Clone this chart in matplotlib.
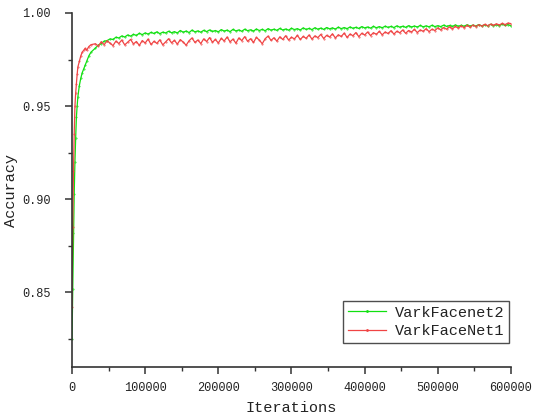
import numpy as np
import matplotlib
matplotlib.use("Agg")
import matplotlib.pyplot as plt
from matplotlib.ticker import MultipleLocator, FixedLocator

plt.rcParams['font.family'] = ['Liberation Mono', 'DejaVu Sans Mono']

# ---- data ----
iters_early = [0, 1000, 2000, 3000, 4000, 5000, 6000, 7000, 8000, 10000, 12000,
               14000, 16000, 18000, 20000, 23000, 26000]
iters_main = list(range(32000, 600001, 4000))
iterations = iters_early + iters_main

net2_early = [0.825, 0.852, 0.882, 0.903, 0.920, 0.933, 0.944, 0.950, 0.955, 0.961, 0.965,
              0.968, 0.970, 0.972, 0.974, 0.977, 0.979]
net2_main = [
    0.9812, 0.9828, 0.9836, 0.9849, 0.9852, 0.9861, 0.9858, 0.9870, 0.9866, 0.9877,
    0.9871, 0.9882, 0.9876, 0.9885, 0.9880, 0.9891, 0.9884, 0.9893, 0.9887, 0.9896,
    0.9890, 0.9899, 0.9889, 0.9897, 0.9893, 0.9902, 0.9894, 0.9900, 0.9893, 0.9906,
    0.9897, 0.9903, 0.9895, 0.9908, 0.9899, 0.9904, 0.9897, 0.9907, 0.9900, 0.9909,
    0.9901, 0.9906, 0.9899, 0.9911, 0.9903, 0.9908, 0.9900, 0.9912, 0.9904, 0.9909,
    0.9902, 0.9913, 0.9905, 0.9910, 0.9903, 0.9914, 0.9906, 0.9912, 0.9905, 0.9916,
    0.9908, 0.9913, 0.9907, 0.9917, 0.9909, 0.9914, 0.9908, 0.9918, 0.9911, 0.9916,
    0.9909, 0.9920, 0.9912, 0.9917, 0.9911, 0.9921, 0.9913, 0.9919, 0.9912, 0.9922,
    0.9915, 0.9920, 0.9914, 0.9924, 0.9916, 0.9922, 0.9916, 0.9925, 0.9918, 0.9923,
    0.9917, 0.9927, 0.9920, 0.9925, 0.9919, 0.9928, 0.9921, 0.9927, 0.9921, 0.9929,
    0.9923, 0.9928, 0.9922, 0.9931, 0.9924, 0.9929, 0.9923, 0.9932, 0.9925, 0.9930,
    0.9925, 0.9933, 0.9926, 0.9931, 0.9926, 0.9934, 0.9927, 0.9932, 0.9927, 0.9935,
    0.9928, 0.9933, 0.9928, 0.9936, 0.9929, 0.9934, 0.9929, 0.9937, 0.9930, 0.9935,
    0.9930, 0.9938, 0.9931, 0.9936, 0.9931, 0.9939, 0.9932, 0.9937, 0.9932, 0.9940,
    0.9933, 0.9938, 0.9931]
net2 = net2_early + net2_main

net1_early = [0.842, 0.885, 0.915, 0.935, 0.950, 0.957, 0.962, 0.967, 0.971, 0.974, 0.977,
              0.979, 0.980, 0.981, 0.980, 0.982, 0.983]
net1_main = [
    0.9835, 0.9822, 0.9846, 0.9830, 0.9851, 0.9838, 0.9825, 0.9849, 0.9836, 0.9855,
    0.9829, 0.9843, 0.9858, 0.9834, 0.9847, 0.9826, 0.9852, 0.9839, 0.9860, 0.9831,
    0.9848, 0.9837, 0.9856, 0.9829, 0.9845, 0.9862, 0.9840, 0.9853, 0.9833, 0.9857,
    0.9844, 0.9827, 0.9851, 0.9866, 0.9842, 0.9855, 0.9836, 0.9861, 0.9847, 0.9868,
    0.9843, 0.9858, 0.9839, 0.9864, 0.9850, 0.9871, 0.9845, 0.9860, 0.9838, 0.9866,
    0.9852, 0.9873, 0.9848, 0.9862, 0.9842, 0.9869, 0.9855, 0.9835, 0.9862, 0.9876,
    0.9853, 0.9867, 0.9849, 0.9872, 0.9858, 0.9878, 0.9855, 0.9870, 0.9861, 0.9880,
    0.9858, 0.9874, 0.9864, 0.9882, 0.9860, 0.9877, 0.9868, 0.9885, 0.9863, 0.9880,
    0.9871, 0.9888, 0.9866, 0.9883, 0.9874, 0.9892, 0.9869, 0.9887, 0.9878, 0.9895,
    0.9873, 0.9891, 0.9882, 0.9898, 0.9879, 0.9894, 0.9886, 0.9901, 0.9883, 0.9898,
    0.9890, 0.9905, 0.9887, 0.9902, 0.9894, 0.9909, 0.9891, 0.9906, 0.9898, 0.9912,
    0.9895, 0.9909, 0.9902, 0.9916, 0.9900, 0.9913, 0.9906, 0.9920, 0.9909, 0.9922,
    0.9913, 0.9926, 0.9915, 0.9928, 0.9919, 0.9931, 0.9921, 0.9933, 0.9924, 0.9935,
    0.9927, 0.9937, 0.9930, 0.9939, 0.9932, 0.9940, 0.9934, 0.9942, 0.9936, 0.9944,
    0.9938, 0.9946, 0.9943]
net1 = net1_early + net1_main

series_labels = ['VarkFacenet2', 'VarkFaceNet1']
y_ticks = [0.85, 0.90, 0.95, 1.00]
x_ticks = [0, 100000, 200000, 300000, 400000, 500000, 600000]

# ---- figure ----
fig = plt.figure(figsize=(5.33, 4.18), dpi=100)
ax = fig.add_axes([0.1351, 0.1220, 0.9587 - 0.1351, 0.9689 - 0.1220])

ax.plot(iterations, net2, color='#10e010', lw=0.9, marker='.', ms=0.8, label=series_labels[0])
ax.plot(iterations, net1, color='#f04444', lw=0.9, marker='.', ms=0.8, label=series_labels[1])

ax.set_xlim(0, 600000)
ax.set_ylim(0.81, 1.00)
ax.xaxis.set_major_locator(FixedLocator(x_ticks))
ax.xaxis.set_minor_locator(MultipleLocator(50000))
ax.yaxis.set_major_locator(FixedLocator(y_ticks))
ax.yaxis.set_minor_locator(FixedLocator([0.825, 0.875, 0.925, 0.975]))
ax.set_xticklabels([str(v) for v in x_ticks])
ax.set_yticklabels(['%.2f' % v for v in y_ticks])

for s in ['top', 'right']:
    ax.spines[s].set_visible(False)
for s in ['left', 'bottom']:
    ax.spines[s].set_color('#333333')
    ax.spines[s].set_linewidth(1.2)

ax.tick_params(which='major', direction='out', length=5, width=1.1, color='#333333',
               labelsize=8.6, labelcolor='#222222')
ax.tick_params(which='minor', direction='out', length=3, width=1.0, color='#333333')
ax.tick_params(axis='y', which='major', pad=10.5)
ax.tick_params(axis='x', which='major', pad=6)

ax.set_xlabel('Iterations', fontsize=11, color='#222222', labelpad=5)
ax.set_ylabel('Accuracy', fontsize=11, color='#222222', labelpad=3)

leg = ax.legend(loc='lower right', bbox_to_anchor=(509 / 533, 75 / 418),
                bbox_transform=fig.transFigure, borderaxespad=0, fontsize=11,
                frameon=True, fancybox=False, edgecolor='#222222',
                handlelength=2.5, handletextpad=0.6, labelspacing=0.3,
                borderpad=0.3, markerscale=2.5)
leg.get_frame().set_linewidth(1.0)
for t in leg.get_texts():
    t.set_color('#222222')

fig.savefig('out.png', dpi=100)
